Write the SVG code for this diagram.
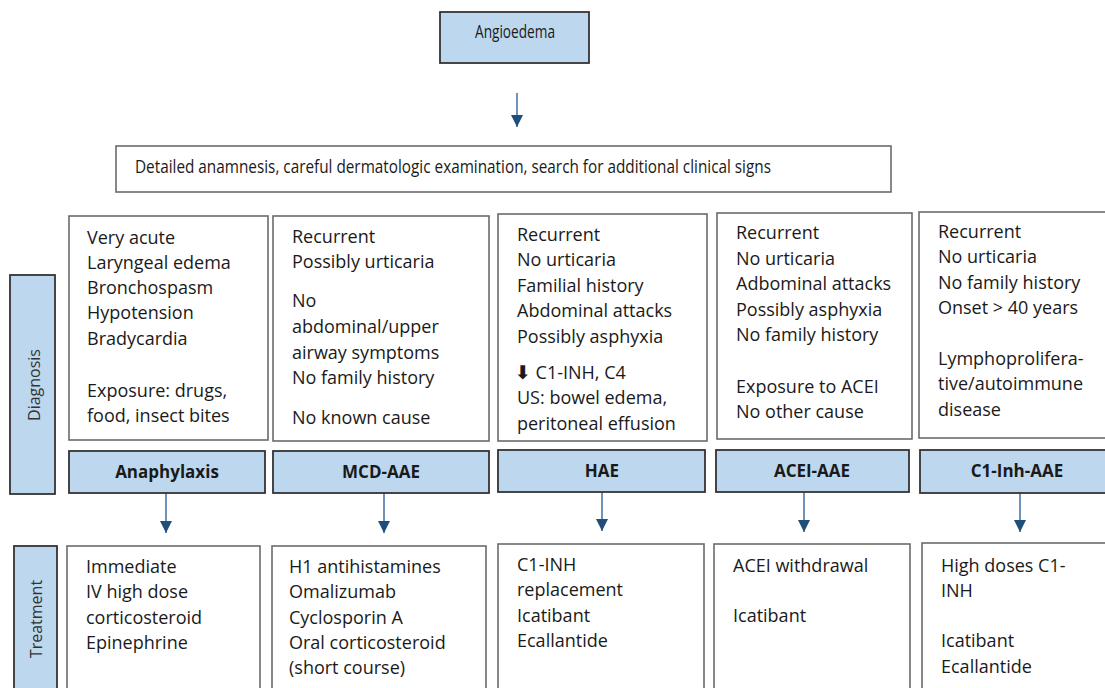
<svg xmlns="http://www.w3.org/2000/svg" width="1105" height="688" viewBox="0 0 1105 688">
<defs>
<marker id="ah" viewBox="0 0 12 12" refX="12" refY="6" markerWidth="12" markerHeight="12" markerUnits="userSpaceOnUse" orient="auto">
<path d="M0,0 L12,6 L0,12 Z" fill="#1F4E79"/>
</marker>
<style>
.wbox{fill:#fff;stroke:#6b6b6b;stroke-width:1.6}
.bbox{fill:#BDD7EE;stroke:#333;stroke-width:1.8}
.t{font-family:"Open Sans","Liberation Sans",sans-serif;font-size:18px;fill:#1a1a1a}
.lb{font-family:"Open Sans","Liberation Sans",sans-serif;font-size:17px;font-weight:bold;fill:#1a1a1a;text-anchor:middle}
.side{font-family:"Open Sans","Liberation Sans",sans-serif;font-size:16px;fill:#333;text-anchor:middle}
.conn{stroke:#4A78A8;stroke-width:1.6;fill:none}
</style>
</defs>
<rect width="1105" height="688" fill="#fff"/>

<g id="connectors">
<line class="conn" x1="517" y1="93" x2="517" y2="127" marker-end="url(#ah)"/>
<line class="conn" x1="166" y1="493" x2="166" y2="533" marker-end="url(#ah)"/>
<line class="conn" x1="384" y1="493" x2="384" y2="533" marker-end="url(#ah)"/>
<line class="conn" x1="602" y1="492" x2="602" y2="531" marker-end="url(#ah)"/>
<line class="conn" x1="804" y1="492" x2="804" y2="532" marker-end="url(#ah)"/>
<line class="conn" x1="1020" y1="493" x2="1020" y2="532" marker-end="url(#ah)"/>
</g>

<g id="angioedema">
<rect class="bbox" x="440" y="12" width="149" height="51"/>
<text class="t" x="475" y="38" font-size="15" textLength="80" lengthAdjust="spacingAndGlyphs">Angioedema</text>
</g>

<g id="anamnesis">
<rect class="wbox" x="116" y="146" width="775" height="46"/>
<text class="t" x="135" y="173" font-size="16" textLength="636" lengthAdjust="spacingAndGlyphs">Detailed anamnesis, careful dermatologic examination, search for additional clinical signs</text>
</g>

<g id="side-diagnosis">
<rect class="bbox" x="10" y="275" width="45" height="219"/>
<text class="side" transform="translate(40,385) rotate(-90)">Diagnosis</text>
</g>

<g id="side-treatment">
<rect class="bbox" x="14" y="546" width="43" height="150"/>
<text class="side" transform="translate(42,619) rotate(-90)">Treatment</text>
</g>

<g id="dx-anaphylaxis">
<rect class="wbox" x="69" y="216" width="199" height="224"/>
<text class="t" x="87" y="244">Very acute</text>
<text class="t" x="87" y="269">Laryngeal edema</text>
<text class="t" x="87" y="294">Bronchospasm</text>
<text class="t" x="87" y="319">Hypotension</text>
<text class="t" x="87" y="345">Bradycardia</text>
<text class="t" x="87" y="397">Exposure: drugs,</text>
<text class="t" x="87" y="422">food, insect bites</text>
</g>

<g id="dx-mcd">
<rect class="wbox" x="273" y="216" width="216" height="225"/>
<text class="t" x="292" y="243">Recurrent</text>
<text class="t" x="292" y="268">Possibly urticaria</text>
<text class="t" x="292" y="307">No</text>
<text class="t" x="292" y="333">abdominal/upper</text>
<text class="t" x="292" y="359">airway  symptoms</text>
<text class="t" x="292" y="384">No family history</text>
<text class="t" x="292" y="424">No known cause</text>
</g>

<g id="dx-hae">
<rect class="wbox" x="498" y="214" width="209" height="227"/>
<text class="t" x="517" y="241">Recurrent</text>
<text class="t" x="517" y="266">No urticaria</text>
<text class="t" x="517" y="292">Familial history</text>
<text class="t" x="517" y="317">Abdominal attacks</text>
<text class="t" x="517" y="343">Possibly asphyxia</text>
<text class="t" x="515" y="379"><tspan font-family="DejaVu Sans" font-weight="bold" font-size="19">⬇</tspan> C1-INH, C4</text>
<text class="t" x="517" y="404">US: bowel edema,</text>
<text class="t" x="517" y="430">peritoneal effusion</text>
</g>

<g id="dx-acei">
<rect class="wbox" x="717" y="213" width="195" height="226"/>
<text class="t" x="736" y="239">Recurrent</text>
<text class="t" x="736" y="265">No urticaria</text>
<text class="t" x="736" y="290">Adbominal attacks</text>
<text class="t" x="736" y="316">Possibly asphyxia</text>
<text class="t" x="736" y="341">No family history</text>
<text class="t" x="736" y="393">Exposure to ACEI</text>
<text class="t" x="736" y="418">No other cause</text>
</g>

<g id="dx-c1inh">
<rect class="wbox" x="919" y="212" width="200" height="226"/>
<text class="t" x="938" y="238">Recurrent</text>
<text class="t" x="938" y="263">No urticaria</text>
<text class="t" x="938" y="289">No family history</text>
<text class="t" x="938" y="314">Onset &gt; 40 years</text>
<text class="t" x="938" y="365">Lymphoprolifera-</text>
<text class="t" x="938" y="390">tive/autoimmune</text>
<text class="t" x="938" y="416">disease</text>
</g>

<g id="lbl-anaphylaxis">
<rect class="bbox" x="69" y="451" width="196" height="42"/>
<text class="lb" x="167" y="478">Anaphylaxis</text>
</g>
<g id="lbl-mcd">
<rect class="bbox" x="273" y="451" width="216" height="42"/>
<text class="lb" x="381" y="478">MCD-AAE</text>
</g>
<g id="lbl-hae">
<rect class="bbox" x="498" y="450" width="207" height="42"/>
<text class="lb" x="602" y="477">HAE</text>
</g>
<g id="lbl-acei">
<rect class="bbox" x="716" y="450" width="193" height="42"/>
<text class="lb" x="812" y="477">ACEI-AAE</text>
</g>
<g id="lbl-c1inh">
<rect class="bbox" x="920" y="450" width="200" height="43"/>
<text class="lb" x="1017" y="477">C1-Inh-AAE</text>
</g>

<g id="tx-anaphylaxis">
<rect class="wbox" x="67" y="546" width="193" height="150"/>
<text class="t" x="86" y="573">Immediate</text>
<text class="t" x="86" y="598">IV high dose</text>
<text class="t" x="86" y="624">corticosteroid</text>
<text class="t" x="86" y="649">Epinephrine</text>
</g>
<g id="tx-mcd">
<rect class="wbox" x="272" y="546" width="214" height="150"/>
<text class="t" x="289" y="573">H1 antihistamines</text>
<text class="t" x="289" y="598">Omalizumab</text>
<text class="t" x="289" y="624">Cyclosporin A</text>
<text class="t" x="289" y="649">Oral corticosteroid</text>
<text class="t" x="289" y="674">(short course)</text>
</g>
<g id="tx-hae">
<rect class="wbox" x="498" y="544" width="206" height="150"/>
<text class="t" x="517" y="571">C1-INH</text>
<text class="t" x="517" y="596">replacement</text>
<text class="t" x="517" y="622">Icatibant</text>
<text class="t" x="517" y="647">Ecallantide</text>
</g>
<g id="tx-acei">
<rect class="wbox" x="714" y="544" width="196" height="150"/>
<text class="t" x="733" y="572">ACEI withdrawal</text>
<text class="t" x="733" y="622">Icatibant</text>
</g>
<g id="tx-c1inh">
<rect class="wbox" x="922" y="543" width="200" height="150"/>
<text class="t" x="941" y="572">High doses C1-</text>
<text class="t" x="941" y="597">INH</text>
<text class="t" x="941" y="647">Icatibant</text>
<text class="t" x="941" y="673">Ecallantide</text>
</g>
</svg>
